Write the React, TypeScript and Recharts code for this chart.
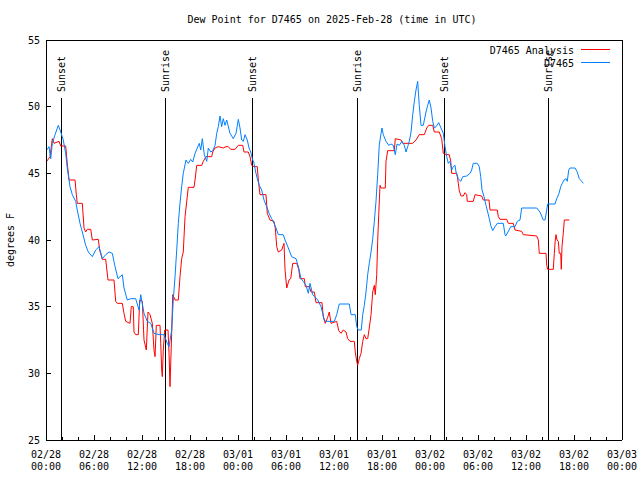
import React from "react";
import { LineChart, Line, XAxis, YAxis, ReferenceLine, Legend } from "recharts";

// hours since 2025-02-28 00:00 UTC
const ANALYSIS_HOURS = [
  0.09, 0.5, 0.79, 1.0, 1.63, 1.84, 2.46, 2.66, 2.88, 3.63,
  3.79, 3.91, 4.54, 4.75, 4.96, 5.16, 5.59, 5.79, 6.54, 6.71,
  7.04, 7.46, 7.75, 8.5, 8.71, 8.91, 9.54, 9.75, 9.96, 10.5,
  10.66, 10.91, 11.0, 11.21, 11.54, 11.71, 12.04, 12.25, 12.54, 12.75,
  13.0, 13.29, 13.5, 13.63, 13.79, 14.25, 14.34, 14.46, 14.54, 14.66,
  14.84, 15.25, 15.38, 15.5, 15.71, 15.84, 16.13, 16.54, 16.75, 16.96,
  17.16, 17.38, 17.66, 17.79, 18.5, 18.63, 18.84, 19.46, 19.66, 20.0,
  20.71, 20.84, 21.13, 21.54, 22.16, 22.5, 22.79, 23.09, 23.63, 24.04,
  24.59, 24.75, 25.29, 25.5, 25.71, 26.0, 26.41, 26.54, 26.75, 27.5,
  27.66, 28.0, 28.5, 28.66, 28.84, 29.04, 29.46, 29.75, 29.88, 30.09,
  30.38, 30.59, 30.84, 31.34, 31.59, 31.75, 32.29, 32.41, 32.91, 33.13,
  33.54, 33.75, 34.5, 34.66, 34.91, 35.21, 35.41, 35.63, 36.34, 36.59,
  36.88, 37.16, 37.5, 37.71, 38.0, 38.54, 38.66, 38.84, 38.96, 39.16,
  39.38, 39.59, 39.79, 40.0, 40.21, 40.41, 40.63, 40.84, 41.04, 41.16,
  41.34, 41.46, 41.59, 41.75, 41.88, 42.41, 42.5, 42.71, 43.54, 43.66,
  44.38, 44.59, 45.84, 46.25, 46.66, 47.29, 47.59, 47.84, 48.34, 48.54,
  49.16, 49.46, 49.66, 50.0, 50.41, 50.59, 50.71, 51.34, 51.46, 51.54,
  51.66, 51.88, 52.16, 52.38, 52.59, 52.66, 53.41, 53.63, 54.46, 54.66,
  55.38, 55.5, 56.41, 56.54, 56.75, 57.59, 57.79, 58.41, 58.63, 59.46,
  59.66, 61.34, 61.54, 61.66, 62.5, 62.59, 62.71, 63.41, 63.54, 63.66,
  63.75, 63.88, 64.04, 64.16, 64.34, 64.41, 64.5, 64.66, 64.79, 65.41,
];
const ANALYSIS_DEWPT = [
  45.9, 46.25, 47.6, 47.25, 47.4, 47.05, 47.05, 45.75, 44.5, 44.5,
  43.4, 42.75, 42.75, 40.9, 40.6, 40.8, 40.8, 40.0, 40.05, 39.25,
  38.55, 38.55, 37.0, 37.0, 35.4, 35.25, 35.25, 34.5, 33.9, 33.75,
  35.0, 35.0, 33.1, 32.9, 32.9, 35.5, 35.4, 32.5, 31.75, 34.6,
  34.4, 33.75, 31.75, 31.25, 33.6, 33.6, 32.25, 30.25, 29.75, 31.75,
  33.25, 33.25, 31.5, 29.0, 33.0, 35.9, 35.5, 35.5, 37.25, 38.6,
  39.1, 41.75, 43.25, 43.95, 43.95, 44.5, 45.6, 45.6, 45.9, 46.25,
  46.25, 46.6, 46.9, 47.0, 46.9, 47.0, 47.0, 46.8, 46.8, 47.1,
  47.1, 46.6, 46.6, 46.25, 45.6, 45.5, 45.5, 44.5, 43.4, 43.4,
  42.0, 41.5, 41.4, 40.9, 39.5, 39.1, 39.25, 39.75, 37.75, 36.4,
  37.0, 37.1, 38.25, 38.25, 37.8, 37.1, 37.1, 36.5, 36.5, 36.1,
  36.1, 35.3, 35.3, 34.25, 33.75, 34.2, 34.6, 33.75, 33.9, 33.2,
  33.0, 33.25, 33.1, 32.6, 32.4, 32.4, 31.6, 30.9, 30.6, 31.1,
  31.5, 32.4, 32.9, 32.6, 32.6, 33.4, 34.4, 36.1, 36.6, 35.9,
  37.4, 39.9, 41.9, 44.1, 43.9, 43.9, 45.9, 46.7, 46.7, 47.6,
  47.5, 47.25, 47.25, 47.5, 47.9, 47.9, 48.4, 48.6, 48.6, 48.1,
  48.1, 47.6, 46.5, 46.4, 46.4, 45.9, 45.0, 45.0, 44.6, 44.25,
  43.7, 43.3, 43.3, 43.55, 43.4, 42.9, 42.9, 43.4, 43.3, 43.0,
  43.0, 42.25, 42.25, 41.75, 41.55, 41.55, 41.25, 41.25, 40.75, 40.65,
  40.4, 40.3, 40.0, 39.0, 39.0, 38.1, 37.8, 37.8, 39.0, 40.0,
  40.4, 40.0, 39.9, 39.0, 39.0, 37.8, 39.5, 40.5, 41.5, 41.5,
];

const OBS_HOURS = [
  0.09, 0.38, 0.59, 0.79, 1.13, 1.54, 1.84, 2.16, 2.46, 2.66,
  3.0, 3.29, 3.71, 3.91, 4.25, 4.54, 4.96, 5.29, 5.79, 6.21,
  6.63, 7.04, 7.46, 7.88, 8.29, 8.59, 9.0, 9.54, 9.75, 10.16,
  10.59, 11.21, 11.63, 11.84, 12.25, 12.66, 13.09, 13.5, 14.13, 14.75,
  15.16, 15.38, 15.71, 15.91, 16.13, 16.34, 16.54, 16.75, 16.96, 17.16,
  17.5, 17.79, 18.09, 18.34, 18.63, 18.91, 19.16, 19.34, 19.54, 19.79,
  20.09, 20.29, 20.59, 20.84, 21.13, 21.34, 21.54, 21.75, 21.96, 22.16,
  22.38, 22.59, 23.0, 23.21, 23.41, 23.75, 24.04, 24.25, 24.46, 24.66,
  24.88, 25.16, 25.38, 25.59, 25.79, 26.0, 26.21, 26.41, 26.66, 26.96,
  27.25, 27.59, 27.88, 28.21, 28.5, 28.75, 29.04, 29.66, 29.88, 30.29,
  30.71, 31.25, 31.59, 31.88, 32.16, 32.5, 32.79, 33.0, 33.34, 33.96,
  34.38, 34.79, 35.0, 36.04, 36.34, 36.66, 37.91, 38.13, 38.66, 38.84,
  39.04, 39.41, 39.59, 39.79, 40.0, 40.21, 40.41, 40.63, 40.84, 41.04,
  41.25, 41.46, 41.66, 41.88, 42.0, 42.16, 42.5, 42.84, 43.13, 43.41,
  43.66, 43.88, 44.16, 44.5, 44.79, 45.0, 45.21, 45.41, 45.63, 45.84,
  46.04, 46.25, 46.46, 46.66, 46.88, 47.16, 47.5, 47.71, 47.91, 48.13,
  48.34, 48.54, 48.75, 49.09, 49.38, 49.66, 49.88, 50.09, 50.29, 50.5,
  50.71, 50.91, 51.13, 51.25, 51.54, 51.84, 52.09, 52.59, 53.0, 53.21,
  53.41, 53.91, 54.16, 54.34, 54.5, 54.75, 55.0, 55.21, 55.41, 55.59,
  55.84, 56.13, 56.41, 57.16, 57.38, 57.46, 57.75, 58.09, 58.63, 58.91,
  59.25, 59.46, 61.34, 61.75, 62.16, 62.38, 62.59, 62.71, 63.63, 63.84,
  64.13, 64.34, 64.54, 64.75, 65.0, 65.16, 65.34, 65.5, 66.13, 66.41,
  66.66, 66.96, 67.16,
];
const OBS_DEWPT = [
  46.75, 47.0, 46.1, 47.25, 47.9, 48.6, 48.1, 47.5, 46.5, 45.4,
  44.0, 43.4, 42.9, 42.25, 41.25, 40.6, 39.6, 39.1, 38.75, 39.25,
  39.5, 38.6, 38.9, 39.1, 39.0, 38.1, 37.1, 37.4, 36.4, 35.5,
  35.6, 35.6, 34.75, 35.9, 34.5, 33.9, 33.75, 33.0, 32.9, 32.9,
  32.25, 32.0, 33.25, 35.5, 37.25, 39.25, 41.25, 42.75, 44.0, 45.0,
  46.0, 45.75, 46.05, 45.85, 46.5, 46.9, 47.25, 46.75, 47.6, 46.4,
  45.9, 46.9, 46.6, 46.7, 47.1, 48.0, 48.5, 49.3, 48.5, 49.1,
  48.6, 49.0, 48.0, 47.8, 47.6, 48.0, 49.05, 48.4, 47.5, 47.4,
  47.9, 47.5, 46.9, 46.6, 46.1, 45.75, 45.1, 44.6, 44.1, 43.75,
  43.0, 42.5, 42.0, 41.6, 41.25, 40.9, 40.4, 40.4, 40.0, 39.4,
  38.75, 38.6, 37.9, 37.1, 36.9, 36.6, 36.0, 36.75, 35.9, 35.5,
  35.0, 34.0, 33.9, 33.9, 34.4, 35.2, 35.2, 34.4, 34.4, 33.5,
  33.25, 33.25, 34.4, 35.1, 36.1, 37.4, 38.25, 39.1, 40.1, 41.4,
  42.9, 44.9, 47.1, 48.0, 48.4, 47.9, 47.4, 47.1, 47.2, 47.1,
  46.4, 47.2, 47.1, 47.4, 47.1, 46.6, 47.0, 47.4, 48.1, 49.4,
  50.4, 51.25, 51.9, 50.1, 48.6, 48.6, 49.6, 50.1, 50.5, 49.9,
  48.9, 48.4, 48.5, 48.8, 48.4, 48.0, 47.0, 46.25, 45.75, 45.9,
  45.25, 45.5, 45.6, 45.1, 44.6, 44.4, 44.75, 44.8, 45.0, 45.25,
  45.75, 45.75, 45.5, 44.75, 43.75, 43.25, 42.6, 42.1, 41.6, 41.1,
  40.7, 41.0, 41.25, 41.25, 40.4, 40.3, 40.6, 41.0, 41.0, 41.4,
  41.5, 42.4, 42.4, 42.1, 41.5, 41.5, 42.25, 42.7, 42.7, 43.1,
  43.5, 44.0, 44.25, 44.5, 44.6, 44.4, 45.25, 45.4, 45.4, 45.1,
  44.6, 44.4, 44.25,
];

const SERIES_NAMES = ["D7465 Analysis", "D7465"];

const SUN_EVENTS = ["Sunset", "Sunrise", "Sunset", "Sunrise", "Sunset", "Sunrise"];
const SUN_HOURS = [1.88, 14.92, 25.8, 38.9, 49.8, 62.8];

const MAJOR_TICKS = [0, 6, 12, 18, 24, 30, 36, 42, 48, 54, 60, 66, 72];
const DATE_LABELS = ["02/28", "02/28", "02/28", "02/28", "03/01", "03/01", "03/01", "03/01", "03/02", "03/02", "03/02", "03/02", "03/03"];
const TIME_LABELS = ["00:00", "06:00", "12:00", "18:00", "00:00", "06:00", "12:00", "18:00", "00:00", "06:00", "12:00", "18:00", "00:00"];
const MINOR_TICKS = Array.from({ length: 37 }, (_, i) => i * 2);
const Y_TICKS = [25, 30, 35, 40, 45, 50, 55];

const analysis = ANALYSIS_HOURS.map((h, i) => ({ h, f: ANALYSIS_DEWPT[i] }));
const observed = OBS_HOURS.map((h, i) => ({ h, f: OBS_DEWPT[i] }));

const FONT = "'DejaVu Sans Mono', monospace";
const MAJOR_LEN = 5;
const MINOR_LEN = 3;
const SUN_GAP = 58;

const axisLine = { stroke: "#000", shapeRendering: "crispEdges" };

function TimeTick(props: any) {
  const { x, y, payload, top } = props;
  const idx = MAJOR_TICKS.indexOf(payload.value);
  const len = idx >= 0 ? MAJOR_LEN : MINOR_LEN;
  return (
    <g>
      <line x1={x} x2={x} y1={y} y2={top ? y + len : y - len} stroke="#000" shapeRendering="crispEdges" />
      {!top && idx >= 0 && (
        <text x={x} y={y} textAnchor="middle" fontFamily={FONT} fontSize={10} fill="#000">
          <tspan x={x} dy={18}>{DATE_LABELS[idx]}</tspan>
          <tspan x={x} dy={12}>{TIME_LABELS[idx]}</tspan>
        </text>
      )}
    </g>
  );
}

function ValueTick(props: any) {
  const { x, y, payload, right } = props;
  return (
    <g>
      <line x1={x} x2={right ? x - MAJOR_LEN : x + MAJOR_LEN} y1={y} y2={y} stroke="#000" shapeRendering="crispEdges" />
      {!right && (
        <text x={x - 6} y={y} dy={3.5} textAnchor="end" fontFamily={FONT} fontSize={10} fill="#000">
          {payload.value}
        </text>
      )}
    </g>
  );
}

function SunMarker(props: any) {
  const { x1, y1, y2, name } = props;
  const top = Math.min(y1, y2);
  const bottom = Math.max(y1, y2);
  const ty = top + SUN_GAP - 6;
  return (
    <g>
      <line x1={x1} x2={x1} y1={top + SUN_GAP} y2={bottom} stroke="#000" shapeRendering="crispEdges" />
      <text
        x={x1}
        y={ty}
        dy={3.5}
        transform={`rotate(-90, ${x1}, ${ty})`}
        textAnchor="start"
        fontFamily={FONT}
        fontSize={10}
        fill="#000"
      >
        {name}
      </text>
    </g>
  );
}

function LegendBox(props: any) {
  const items = [...(props.payload || [])].sort(
    (a: any, b: any) => SERIES_NAMES.indexOf(a.value) - SERIES_NAMES.indexOf(b.value)
  );
  return (
    <svg width={150} height={30} style={{ display: "block" }}>
      {items.map((p: any, i: number) => (
        <g key={i}>
          <text x={104} y={10 + i * 13} dy={3.5} textAnchor="end" fontFamily={FONT} fontSize={10} fill="#000">
            {p.value}
          </text>
          <line x1={111} x2={140} y1={9.5 + i * 13} y2={9.5 + i * 13} stroke={p.color} />
        </g>
      ))}
    </svg>
  );
}

export default function App() {
  return (
    <div style={{ position: "absolute", left: 0, top: 0, width: 640, height: 480, background: "#fff" }}>
      <div
        style={{
          position: "absolute",
          left: 44,
          top: 14,
          width: 576,
          textAlign: "center",
          fontFamily: FONT,
          fontSize: 10,
          lineHeight: "12px",
          color: "#000",
        }}
      >
        Dew Point for D7465 on 2025-Feb-28 (time in UTC)
      </div>
      <LineChart width={640} height={480} margin={{ top: 0, right: 0, bottom: 0, left: 0 }}>
        <XAxis
          dataKey="h"
          type="number"
          domain={[0, 72]}
          ticks={MINOR_TICKS}
          interval={0}
          height={40}
          tickSize={0}
          tickMargin={0}
          tickLine={false}
          axisLine={axisLine}
          tick={<TimeTick />}
          allowDataOverflow
        />
        <XAxis
          xAxisId="top"
          orientation="top"
          type="number"
          domain={[0, 72]}
          ticks={MINOR_TICKS}
          interval={0}
          height={40}
          tickSize={0}
          tickMargin={0}
          tickLine={false}
          axisLine={axisLine}
          tick={<TimeTick top />}
        />
        <YAxis
          type="number"
          domain={[25, 55]}
          ticks={Y_TICKS}
          interval={0}
          width={46}
          tickSize={0}
          tickMargin={0}
          tickLine={false}
          axisLine={axisLine}
          tick={<ValueTick />}
          label={{
            value: "degrees F",
            angle: -90,
            position: "insideLeft",
            offset: 10,
            style: { fontFamily: FONT, fontSize: 10, fill: "#000", textAnchor: "middle" },
          }}
        />
        <YAxis
          yAxisId="right"
          orientation="right"
          type="number"
          domain={[25, 55]}
          ticks={Y_TICKS}
          interval={0}
          width={18}
          tickSize={0}
          tickMargin={0}
          tickLine={false}
          axisLine={axisLine}
          tick={<ValueTick right />}
        />
        {SUN_HOURS.map((h, i) => (
          <ReferenceLine
            key={i}
            x={h}
            stroke="#000"
            shape={(p: any) => <SunMarker {...p} name={SUN_EVENTS[i]} />}
          />
        ))}
        <Legend
          layout="horizontal"
          verticalAlign="middle"
          align="center"
          wrapperStyle={{ top: 40, left: 470, width: 150, height: 30 }}
          content={<LegendBox />}
        />
        <Line
          data={analysis}
          dataKey="f"
          name={SERIES_NAMES[0]}
          type="linear"
          stroke="#ff0000"
          strokeWidth={1}
          dot={false}
          activeDot={false}
          isAnimationActive={false}
        />
        <Line
          data={observed}
          dataKey="f"
          name={SERIES_NAMES[1]}
          type="linear"
          stroke="#0080ff"
          strokeWidth={1}
          dot={false}
          activeDot={false}
          isAnimationActive={false}
        />
      </LineChart>
    </div>
  );
}
